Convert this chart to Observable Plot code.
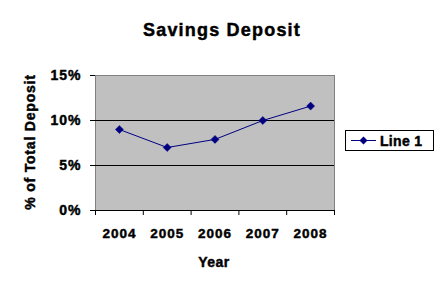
<!DOCTYPE html>
<html>
<head>
<meta charset="utf-8">
<script src="https://cdn.jsdelivr.net/npm/d3@7"></script>
<script src="https://cdn.jsdelivr.net/npm/@observablehq/plot@0.6"></script>
<style>
  html, body { margin: 0; padding: 0; background: #fff; }
  svg { display: block; }
</style>
</head>
<body>
<div id="chart"></div>
<script>
const title = "Savings Deposit";
const years = [2004, 2005, 2006, 2007, 2008];
const values = [9.0, 7.0, 7.9, 10.0, 11.6];
const yTicks = [0, 5, 10, 15];
const yLabel = "% of Total Deposit";
const xLabel = "Year";
const seriesName = "Line 1";

const data = years.map((y, i) => ({year: y, value: values[i]}));
const bounds = [...years.map(y => y - 0.5), years[years.length - 1] + 0.5];

const font = "'Liberation Sans', Arial, sans-serif";
const W = 445, H = 296;
const mL = 95, mR = 111, mT = 75, mB = 86;

const plot = Plot.plot({
  width: W, height: H,
  marginLeft: mL, marginRight: mR, marginTop: mT, marginBottom: mB,
  style: {fontFamily: font, background: "#fff", overflow: "visible"},
  x: {type: "linear", domain: [bounds[0], bounds[bounds.length - 1]]},
  y: {domain: [0, 15]},
  marks: [
    Plot.frame({fill: "#c0c0c0", stroke: "#808080"}),
    Plot.ruleY(yTicks.filter(t => t > 0 && t < 15), {stroke: "#000", strokeWidth: 1}),
    Plot.ruleY([0], {stroke: "#000"}),
    Plot.axisY({ticks: yTicks, tickSize: 5, tickPadding: 9, tickFormat: d => d + "%",
      label: null, fontSize: 14, fontWeight: "bold"}),
    Plot.axisX({ticks: bounds, tickSize: 5, tickFormat: () => "", label: null}),
    Plot.axisX({ticks: years, tickSize: 0, tickPadding: 18, tickFormat: d => String(d),
      label: null, fontSize: 13.5, fontWeight: "bold"}),
    Plot.line(data, {x: "year", y: "value", stroke: "#000080", strokeWidth: 1}),
    Plot.dot(data, {x: "year", y: "value", symbol: "diamond2", r: 3.6, fill: "#000080", stroke: "#000080", strokeWidth: 0.5})
  ]
});

const svg = d3.select(plot);
svg.selectAll("g[aria-label='x-axis tick label'] text, g[aria-label='y-axis tick label'] text")
  .attr("letter-spacing", "1").attr("stroke", "#000").attr("stroke-width", 0.45);

function heavy(sel) {
  return sel.attr("font-family", font).attr("font-weight", "bold")
    .attr("fill", "#000").attr("stroke", "#000").attr("stroke-width", 0.45);
}

// title
heavy(svg.append("text").attr("x", 222).attr("y", 36).attr("text-anchor", "middle")
  .attr("font-size", 18).attr("letter-spacing", "1.2").text(title));
// y label
heavy(svg.append("text").attr("transform", "translate(35,142) rotate(-90)").attr("text-anchor", "middle")
  .attr("font-size", 14).attr("letter-spacing", "0.8").text(yLabel));
// x label
heavy(svg.append("text").attr("x", 214).attr("y", 267).attr("text-anchor", "middle")
  .attr("font-size", 14).attr("letter-spacing", "0.5").text(xLabel));

// legend
const lg = svg.append("g");
lg.append("rect").attr("x", 345.5).attr("y", 130.5).attr("width", 88).attr("height", 20)
  .attr("fill", "#fff").attr("stroke", "#000");
lg.append("line").attr("x1", 351).attr("x2", 376).attr("y1", 140.5).attr("y2", 140.5)
  .attr("stroke", "#000080");
lg.append("path").attr("d", d3.symbol(d3.symbolDiamond2, 40)()).attr("transform", "translate(363.5,140.5)")
  .attr("fill", "#000080");
heavy(lg.append("text").attr("x", 380).attr("y", 145.5).attr("text-anchor", "start")
  .attr("font-size", 14).attr("letter-spacing", "0.3").text(seriesName));

document.getElementById("chart").appendChild(plot);
</script>
</body>
</html>
